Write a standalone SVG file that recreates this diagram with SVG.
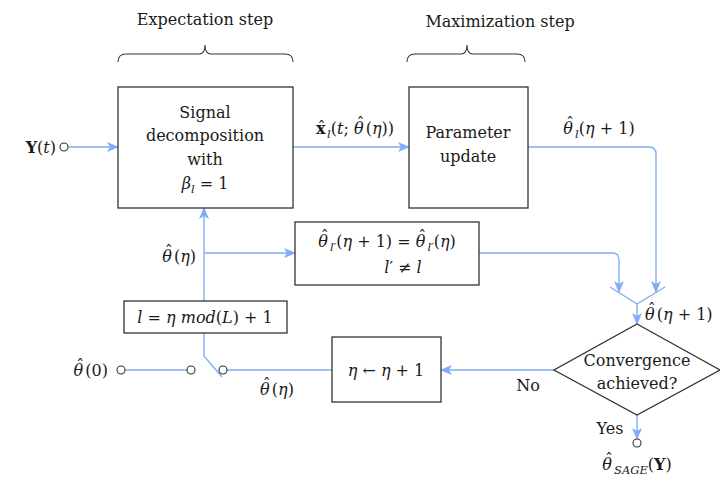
<svg xmlns="http://www.w3.org/2000/svg" width="720" height="477" viewBox="0 0 720 477">
<style>
  text { font-family: 'DejaVu Serif', 'Liberation Serif', serif; font-size: 16px; fill: #1a1a1a; }
  .m { font-style: italic; }
  .b { font-weight: bold; }
  .sub { font-size: 11.5px; font-style: italic; }
  .box { fill: #ffffff; stroke: #333333; stroke-width: 1.3; }
  .wire { fill: none; stroke: #80adf5; stroke-width: 1.4; }
  .arr { fill: none; stroke: #80adf5; stroke-width: 1.4; marker-end: url(#ah); }
  .port { fill: #ffffff; stroke: #333333; stroke-width: 1.1; }
  .brace { fill: none; stroke: #333333; stroke-width: 1.1; }
</style>
<defs>
  <marker id="ah" viewBox="0 0 12 10" refX="11" refY="5" markerWidth="12" markerHeight="10" markerUnits="userSpaceOnUse" orient="auto">
    <path d="M0,0 L12,5 L0,10 L3,5 Z" fill="#80adf5"/>
  </marker>
</defs>

<!-- step headings with braces -->
<g id="estep">
  <text x="205" y="25" text-anchor="middle">Expectation step</text>
  <path class="brace" d="M118,62 Q118,54 126,54 L199,54 Q205,54 205,45 Q205,54 211,54 L285,54 Q293,54 293,62"/>
</g>
<g id="mstep">
  <text x="500" y="27" text-anchor="middle">Maximization step</text>
  <path class="brace" d="M407,62 Q407,54 415,54 L461,54 Q467,54 467,45 Q467,54 473,54 L517,54 Q525,54 525,62"/>
</g>

<!-- connectors -->
<g id="connectors">
  <path class="arr" d="M68,147 L118,147"/>
  <path class="arr" d="M293,147 L409,147"/>
  <path class="arr" d="M528,147 L649,147 Q656,147 656,154 L656,292"/>
  <path class="arr" d="M479,253 L612,253 Q619,253 619,260 L619,292"/>
  <path class="wire" d="M610,287 L637,304 L665,287"/>
  <path class="arr" d="M637,304 L637,324"/>
  <path class="arr" d="M554,370 L441,370"/>
  <path class="arr" d="M637,415 L637,439"/>
  <path class="wire" d="M332,370 L227,370"/>
  <path class="wire" d="M125,370 L187,370"/>
  <path class="wire" d="M204,333 L204,356 L222,377"/>
  <path class="arr" d="M204,301 L204,208"/>
  <path class="arr" d="M204,253 L295,253"/>
</g>

<!-- ports -->
<g id="ports">
  <circle class="port" cx="64" cy="147" r="4"/>
  <circle class="port" cx="121" cy="370" r="4"/>
  <circle class="port" cx="191" cy="370" r="4"/>
  <circle class="port" cx="223" cy="370" r="4"/>
  <circle class="port" cx="637" cy="443" r="4"/>
</g>

<!-- nodes -->
<g id="signal-decomposition">
  <rect class="box" x="118" y="87" width="175" height="121"/>
  <text x="205" y="118" text-anchor="middle">Signal</text>
  <text x="205" y="141" text-anchor="middle">decomposition</text>
  <text x="205" y="165" text-anchor="middle">with</text>
  <text x="205" y="189" text-anchor="middle"><tspan class="m">β</tspan><tspan class="sub" dy="4">l</tspan><tspan dy="-4"> = 1</tspan></text>
</g>

<g id="parameter-update">
  <rect class="box" x="409" y="87" width="119" height="121"/>
  <text x="468" y="138" text-anchor="middle">Parameter</text>
  <text x="468" y="162" text-anchor="middle">update</text>
</g>

<g id="keep-others">
  <rect class="box" x="295" y="222" width="184" height="63"/>
  <text x="387" y="247" text-anchor="middle"><tspan class="m">θ</tspan><tspan dx="-7" dy="-5">ˆ</tspan><tspan class="sub" dx="1.1" dy="9">l′</tspan><tspan dy="-4">(</tspan><tspan class="m">η</tspan> + 1) = <tspan class="m">θ</tspan><tspan dx="-7" dy="-5">ˆ</tspan><tspan class="sub" dx="1.1" dy="9">l′</tspan><tspan dy="-4">(</tspan><tspan class="m">η</tspan>)</text>
  <text x="403" y="273" text-anchor="middle"><tspan class="m">l</tspan>′ ≠ <tspan class="m">l</tspan></text>
</g>

<g id="index-select">
  <rect class="box" x="124" y="301" width="163" height="32"/>
  <text x="205" y="323" text-anchor="middle"><tspan class="m">l</tspan> = <tspan class="m">η mod</tspan>(<tspan class="m">L</tspan>) + 1</text>
</g>

<g id="increment">
  <rect class="box" x="332" y="337" width="109" height="65"/>
  <text x="386" y="376" text-anchor="middle"><tspan class="m">η</tspan> ← <tspan class="m">η</tspan> + 1</text>
</g>

<g id="convergence">
  <path class="box" d="M637,324 L720,370 L637,415 L554,370 Z"/>
  <text x="637" y="366" text-anchor="middle">Convergence</text>
  <text x="637" y="389" text-anchor="middle">achieved?</text>
</g>

<!-- signal and branch labels -->
<g id="labels">
  <text x="56" y="153" text-anchor="end"><tspan class="b">Y</tspan>(<tspan class="m">t</tspan>)</text>
  <text x="355" y="134" text-anchor="middle"><tspan class="b">x</tspan><tspan dx="-8" dy="-1">ˆ</tspan><tspan class="sub" dx="1.6" dy="5">l</tspan><tspan dy="-4">(</tspan><tspan class="m">t</tspan>; <tspan class="m">θ</tspan><tspan dx="-7" dy="-5">ˆ</tspan><tspan dx="1.1" dy="5">(</tspan><tspan class="m">η</tspan>))</text>
  <text x="599" y="134" text-anchor="middle"><tspan class="m">θ</tspan><tspan dx="-7" dy="-5">ˆ</tspan><tspan class="sub" dx="1.1" dy="9">l</tspan><tspan dy="-4">(</tspan><tspan class="m">η</tspan> + 1)</text>
  <text x="196" y="262" text-anchor="end"><tspan class="m">θ</tspan><tspan dx="-7" dy="-5">ˆ</tspan><tspan dx="1.1" dy="5">(</tspan><tspan class="m">η</tspan>)</text>
  <text x="645" y="320"><tspan class="m">θ</tspan><tspan dx="-7" dy="-5">ˆ</tspan><tspan dx="1.1" dy="5">(</tspan><tspan class="m">η</tspan> + 1)</text>
  <text x="108" y="376" text-anchor="end"><tspan class="m">θ</tspan><tspan dx="-7" dy="-5">ˆ</tspan><tspan dx="1.1" dy="5">(0)</tspan></text>
  <text x="277" y="395" text-anchor="middle"><tspan class="m">θ</tspan><tspan dx="-7" dy="-5">ˆ</tspan><tspan dx="1.1" dy="5">(</tspan><tspan class="m">η</tspan>)</text>
  <text x="528" y="391" text-anchor="middle">No</text>
  <text x="610" y="434" text-anchor="middle">Yes</text>
  <text x="637" y="470" text-anchor="middle"><tspan class="m">θ</tspan><tspan dx="-7" dy="-5">ˆ</tspan><tspan class="sub" dx="1.1" dy="9">SAGE</tspan><tspan dy="-4">(</tspan><tspan class="b">Y</tspan>)</text>
</g>
</svg>
